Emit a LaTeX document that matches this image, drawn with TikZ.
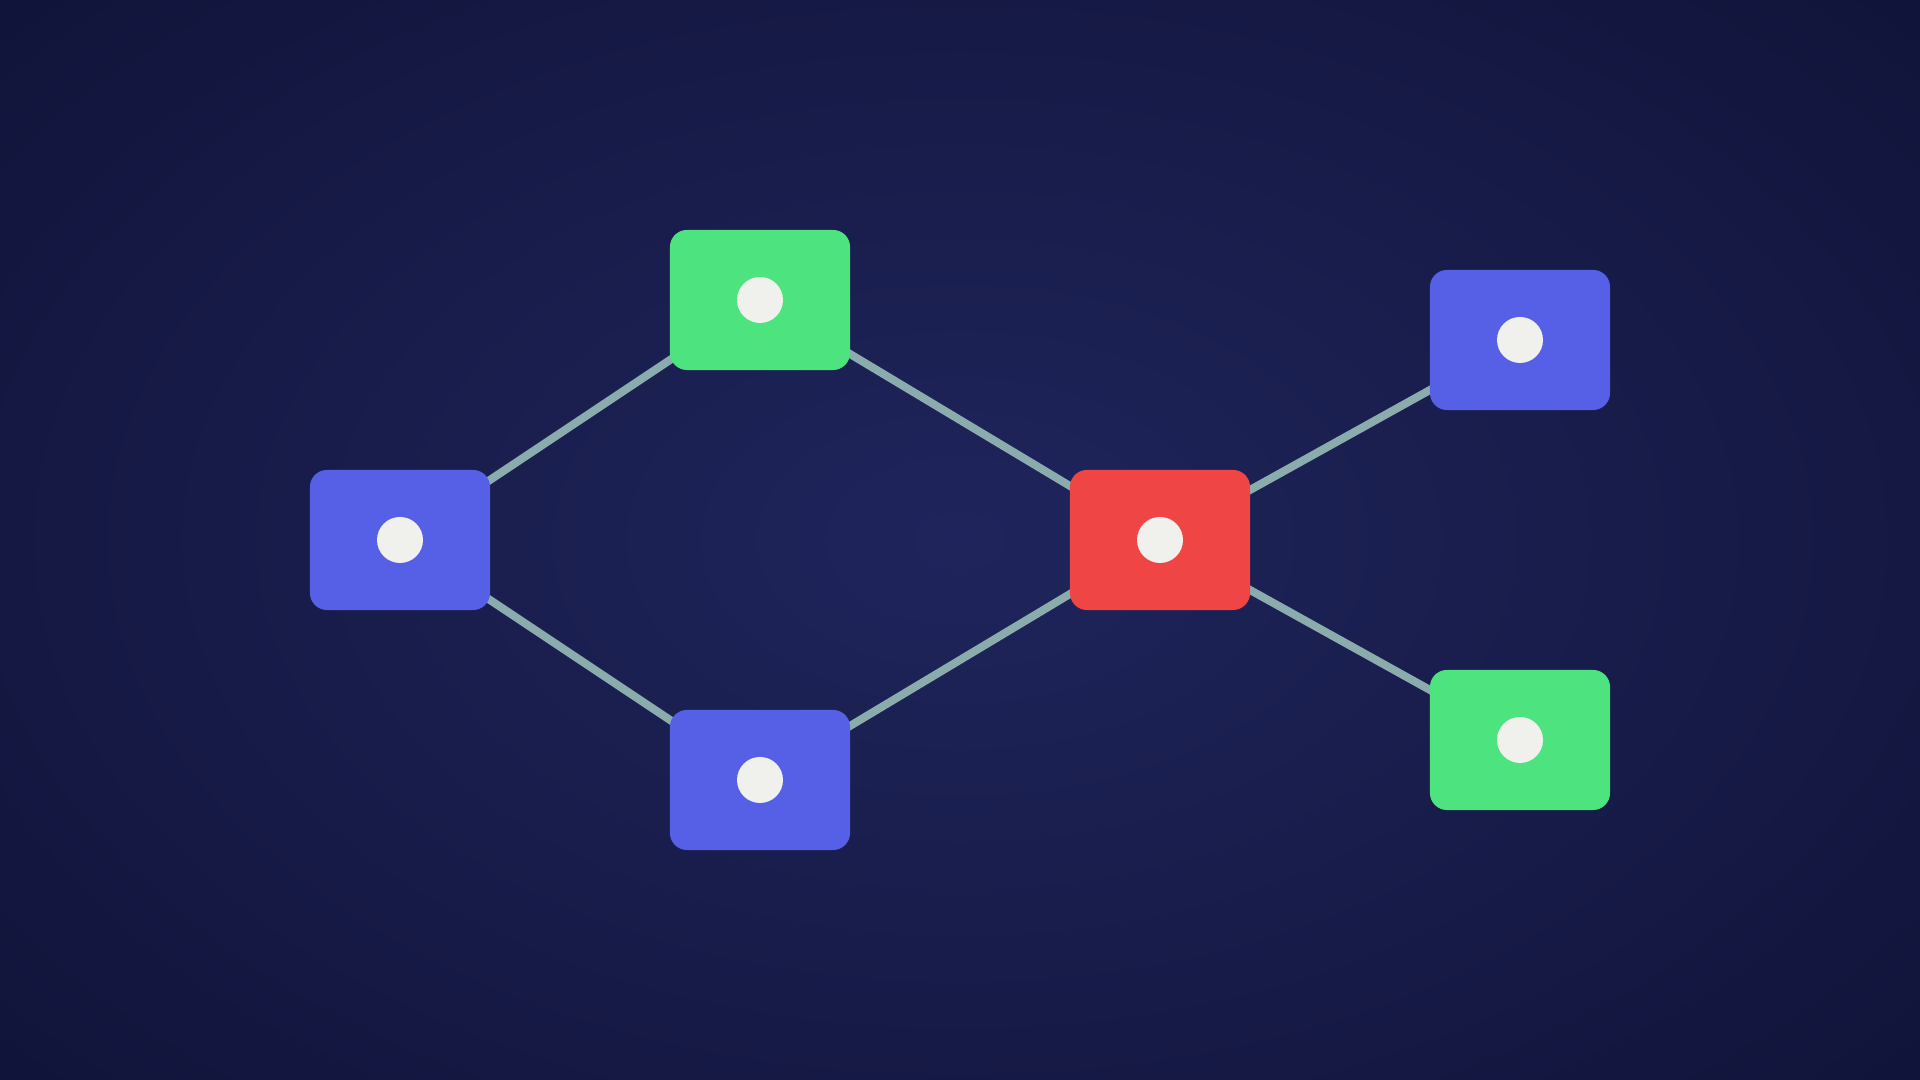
\documentclass[tikz,border=0pt]{standalone}
\pgfdeclarelayer{bglayer}
\pgfdeclarelayer{edgelayer}
\pgfsetlayers{bglayer,edgelayer,main}
\definecolor{bgin}{HTML}{1F255C}
\definecolor{bgout}{HTML}{11143A}
\definecolor{nblue}{HTML}{5660E6}
\definecolor{ngreen}{HTML}{4DE37E}
\definecolor{nred}{HTML}{F04545}
\definecolor{ndot}{HTML}{F0F0EC}
\definecolor{nline}{HTML}{8AACAC}
\tikzset{
  box/.style={rectangle, rounded corners=0.17cm, minimum width=1.8cm, minimum height=1.4cm, inner sep=0pt, draw=none},
  bluebox/.style={box, fill=nblue},
  greenbox/.style={box, fill=ngreen},
  redbox/.style={box, fill=nred},
  dotc/.style={circle, fill=ndot, minimum size=0.46cm, inner sep=0pt, draw=none},
  link/.style={draw=nline, line width=0.08cm}
}
\begin{document}
\begin{tikzpicture}[x=0.01cm,y=0.01cm]
\useasboundingbox (0,0) rectangle (1920,1080);
\begin{pgfonlayer}{bglayer}
\fill[bgout] (0,0) rectangle (1920,1080);
\shade[inner color=bgin, outer color=bgout] (-300,-250) rectangle (2220,1330);
\end{pgfonlayer}
\node[bluebox] (L) at (400,540) {};
\node[greenbox] (TG) at (760,780) {};
\node[bluebox] (BB) at (760,300) {};
\node[redbox] (R) at (1160,540) {};
\node[bluebox] (TR) at (1520,740) {};
\node[greenbox] (BR) at (1520,340) {};
\foreach \n in {L,TG,BB,R,TR,BR} { \node[dotc] (d\n) at (\n) {}; }
\begin{pgfonlayer}{edgelayer}
\draw[link] (L.center) -- (TG.center);
\draw[link] (L.center) -- (BB.center);
\draw[link] (TG.center) -- (R.center);
\draw[link] (BB.center) -- (R.center);
\draw[link] (R.center) -- (TR.center);
\draw[link] (R.center) -- (BR.center);
\end{pgfonlayer}
\end{tikzpicture}
\end{document}
